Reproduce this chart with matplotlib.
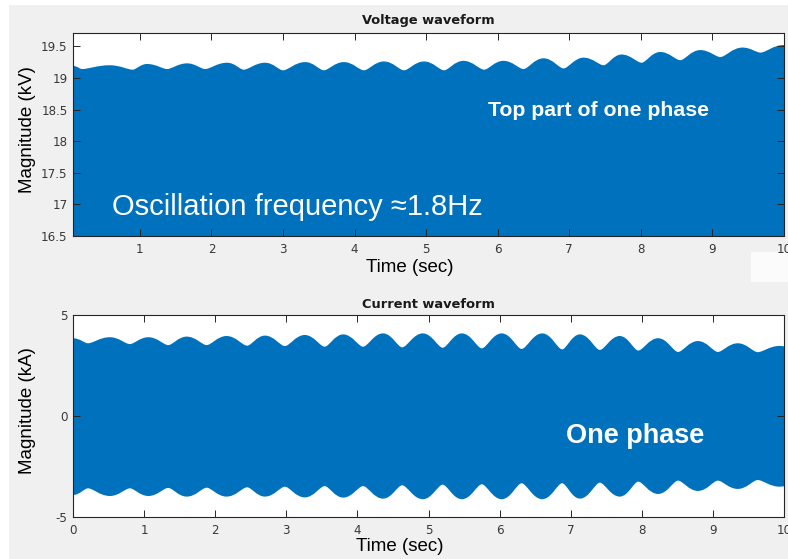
import matplotlib
matplotlib.use("Agg")
import matplotlib.pyplot as plt
from matplotlib.path import Path
from matplotlib.patches import PathPatch, Rectangle

# envelope of the voltage peaks (kV), read at each local max/min
volt_t = [0.065, 0.19, 0.58, 0.90, 1.10, 1.38, 1.66, 1.91, 2.22, 2.45, 2.75, 3.00,
          3.31, 3.57, 3.85, 4.13, 4.41, 4.69, 4.97, 5.25, 5.52, 5.81, 6.08, 6.36,
          6.64, 6.92, 7.20, 7.48, 7.73, 8.01, 8.27, 8.55, 8.83, 9.11, 9.42, 9.67, 10.0]
volt_top = [19.19, 19.14, 19.20, 19.13, 19.22, 19.14, 19.23, 19.14, 19.24, 19.13, 19.24, 19.12,
            19.25, 19.12, 19.25, 19.12, 19.26, 19.12, 19.26, 19.12, 19.27, 19.13, 19.27, 19.14,
            19.31, 19.15, 19.32, 19.20, 19.37, 19.24, 19.41, 19.28, 19.44, 19.33, 19.48, 19.40, 19.52]

# current envelope (kA), upper and lower
cur_t = [0.0, 0.21, 0.52, 0.80, 1.06, 1.34, 1.60, 1.88, 2.16, 2.45, 2.70, 2.98,
         3.26, 3.54, 3.80, 4.08, 4.36, 4.63, 4.92, 5.20, 5.47, 5.75, 6.03, 6.31,
         6.60, 6.88, 7.13, 7.41, 7.69, 7.95, 8.23, 8.51, 8.79, 9.07, 9.35, 9.63, 9.94, 10.0]
cur_top = [3.85, 3.60, 3.90, 3.56, 3.90, 3.51, 3.93, 3.51, 3.96, 3.48, 3.98, 3.46,
           4.01, 3.43, 4.04, 3.43, 4.09, 3.40, 4.09, 3.38, 4.09, 3.35, 4.09, 3.32,
           4.09, 3.30, 4.04, 3.27, 3.96, 3.24, 3.85, 3.17, 3.71, 3.17, 3.60, 3.16, 3.47, 3.45]
cur_bot = [-3.91, -3.58, -3.96, -3.58, -3.96, -3.56, -3.99, -3.55, -3.99, -3.53, -3.99, -3.50,
           -4.03, -3.47, -4.04, -3.47, -4.09, -3.43, -4.12, -3.40, -4.12, -3.38, -4.12, -3.33,
           -4.12, -3.33, -4.09, -3.30, -3.99, -3.25, -3.86, -3.20, -3.71, -3.20, -3.61, -3.17, -3.50, -3.48]

blue = "#0072BD"
K_OUT, K_IN = 0.46, 0.24  # bezier handles: round outer peaks, tighter inner dips


def curve(ts, vs, sign):
    # sign=+1 when larger |value| is the outer side
    verts, codes = [], []
    for i in range(1, len(ts)):
        dx = ts[i] - ts[i - 1]
        k0 = K_OUT if sign * (vs[i - 1] - vs[i]) > 0 else K_IN
        k1 = K_OUT if sign * (vs[i] - vs[i - 1]) > 0 else K_IN
        verts += [(ts[i - 1] + k0 * dx, vs[i - 1]), (ts[i] - k1 * dx, vs[i]), (ts[i], vs[i])]
        codes += [Path.CURVE4] * 3
    return verts, codes


plt.rcParams["axes.unicode_minus"] = False
plt.rcParams["font.family"] = ["DejaVu Sans"]

fig = plt.figure(figsize=(7.88, 5.59), dpi=100, facecolor="white")
fig.patches.append(Rectangle((9 / 788, 0), 1, 1 - 5 / 559, transform=fig.transFigure,
                             facecolor="#f0f0f0", edgecolor="none", zorder=-10))
fig.patches.append(Rectangle((751 / 788, 1 - 282 / 559), 37 / 788, 30 / 559, transform=fig.transFigure,
                             facecolor="#fbfbfb", edgecolor="none", zorder=-9))

ax1 = fig.add_axes([73 / 788, 1 - 236 / 559, 711 / 788, 203 / 559])
ax2 = fig.add_axes([73 / 788, 1 - 517 / 559, 711 / 788, 202 / 559])

# voltage: top of one phase, filled down to the axis floor
v, c = curve(volt_t, volt_top, 1)
verts = [(volt_t[0], volt_top[0])] + v + [(volt_t[-1], 16.0), (volt_t[0], 16.0), (volt_t[0], volt_top[0])]
codes = [Path.MOVETO] + c + [Path.LINETO, Path.LINETO, Path.CLOSEPOLY]
ax1.add_patch(PathPatch(Path(verts, codes), facecolor=blue, edgecolor="none"))

# current: band between upper and lower envelope
vt, ct = curve(cur_t, cur_top, 1)
vb, cb = curve(cur_t[::-1], cur_bot[::-1], -1)
verts = [(cur_t[0], cur_top[0])] + vt + [(cur_t[-1], cur_bot[-1])] + vb + [(cur_t[0], cur_top[0])]
codes = [Path.MOVETO] + ct + [Path.LINETO] + cb + [Path.CLOSEPOLY]
ax2.add_patch(PathPatch(Path(verts, codes), facecolor=blue, edgecolor="none"))

ax1.set_xlim(0.065, 10)
ax1.set_ylim(16.5, 19.71)
ax1.set_xticks(range(1, 11))
ax1.set_yticks([16.5, 17, 17.5, 18, 18.5, 19, 19.5])
ax1.set_yticklabels(["16.5", "17", "17.5", "18", "18.5", "19", "19.5"])

ax2.set_xlim(0, 10)
ax2.set_ylim(-5, 5)
ax2.set_xticks(range(0, 11))
ax2.set_yticks([-5, 0, 5])

sans = ["Liberation Sans", "DejaVu Sans"]
lab = dict(family=sans, fontsize=13.5, color="black")
for ax, title, ylab, xl, xly, ty in [(ax1, "Voltage waveform", "Magnitude (kV)", 0.474, -0.113, 1.06),
                                     (ax2, "Current waveform", "Magnitude (kA)", 0.46, -0.104, 1.05)]:
    ax.set_facecolor("white")
    for s in ax.spines.values():
        s.set_color("#262626")
        s.set_linewidth(0.8)
    ax.tick_params(direction="in", length=5, width=0.7, top=True, right=True,
                   labelsize=8.6, labelcolor="#383838", color="#262626")
    ax.tick_params(axis="x", pad=5)
    ax.tick_params(axis="y", pad=4)
    ax.set_xlabel("Time (sec)", **lab)
    ax.set_ylabel(ylab, **lab)
    ax.xaxis.set_label_coords(xl, xly)
    ax.yaxis.set_label_coords(-0.052, 0.525)
    ax.text(0.5, ty, title, transform=ax.transAxes, ha="center", va="center",
            fontsize=9.4, fontweight="bold", color="#1a1a1a")

fig.text(599 / 788, 1 - 110 / 559, "Top part of one phase", ha="center", va="center",
         color="white", fontsize=15.3, fontweight="bold", family=sans)
ax1.text(0.055, 0.145, "Oscillation frequency \u22481.8Hz", transform=ax1.transAxes, ha="left",
         va="center", color="white", fontsize=21, family=sans)
ax2.text(0.79, 0.40, "One phase", transform=ax2.transAxes, ha="center", va="center",
         color="white", fontsize=19.5, fontweight="bold", family=sans)

fig.savefig("out.png", dpi=100, facecolor=fig.get_facecolor())
